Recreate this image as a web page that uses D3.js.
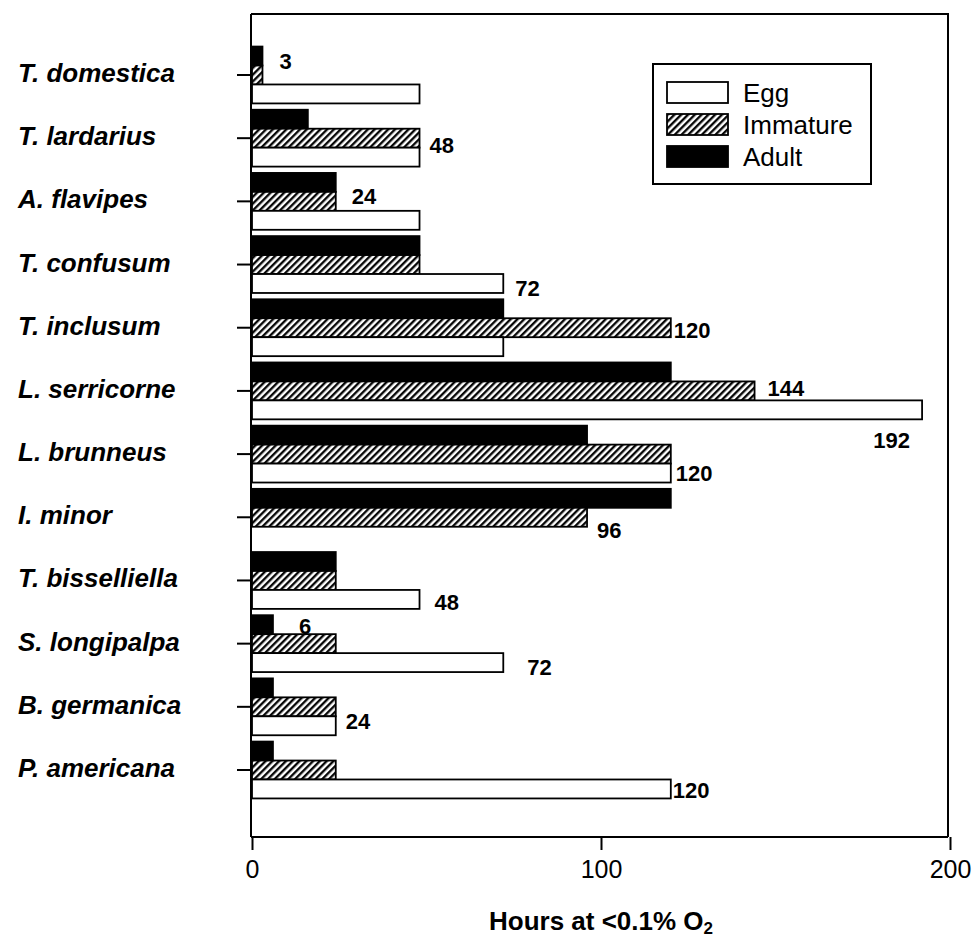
<!DOCTYPE html>
<html>
<head>
<meta charset="utf-8">
<script src="https://cdn.jsdelivr.net/npm/d3@7"></script>
<style>
  html, body { margin: 0; padding: 0; background: #fff; }
  svg { display: block; }
</style>
</head>
<body>
<svg id="chart" width="976" height="940"></svg>
<script>
// ---------------- DATA ----------------
const categories = [
  "T. domestica", "T. lardarius", "A. flavipes", "T. confusum", "T. inclusum",
  "L. serricorne", "L. brunneus", "I. minor", "T. bisselliella", "S. longipalpa",
  "B. germanica", "P. americana"
];
const seriesNames = ["Egg", "Immature", "Adult"];
const eggHours      = [48, 48, 48, 72, 72, 192, 120, 0, 48, 72, 24, 120];
const immatureHours = [3, 48, 24, 48, 120, 144, 120, 96, 24, 24, 24, 24];
const adultHours    = [3, 16, 24, 48, 72, 120, 96, 120, 24, 6, 6, 6];
const xTickValues = [0, 100, 200];
const xAxisTitle = "Hours at <0.1% O";
const xAxisTitleSub = "2";

// value annotations: category, series, text
const valueLabels = [
  { category: "T. domestica",    series: "Adult",    text: "3" },
  { category: "T. lardarius",    series: "Immature", text: "48" },
  { category: "A. flavipes",     series: "Immature", text: "24" },
  { category: "T. confusum",     series: "Egg",      text: "72" },
  { category: "T. inclusum",     series: "Immature", text: "120" },
  { category: "L. serricorne",   series: "Immature", text: "144" },
  { category: "L. serricorne",   series: "Egg",      text: "192" },
  { category: "L. brunneus",     series: "Egg",      text: "120" },
  { category: "I. minor",        series: "Immature", text: "96" },
  { category: "T. bisselliella", series: "Egg",      text: "48" },
  { category: "S. longipalpa",   series: "Adult",    text: "6" },
  { category: "S. longipalpa",   series: "Egg",      text: "72" },
  { category: "B. germanica",    series: "Egg",      text: "24" },
  { category: "P. americana",    series: "Egg",      text: "120" }
];

// ---------------- LAYOUT ----------------
const seriesValues = { "Egg": eggHours, "Immature": immatureHours, "Adult": adultHours };
const barOrder = ["Adult", "Immature", "Egg"]; // top to bottom inside a group
// nudges for annotation placement relative to bar end / bar centre (same order as valueLabels)
const labelNudges = [
  { dx: 17, dy: 5,  anchor: "start" },
  { dx: 10, dy: 7,  anchor: "start" },
  { dx: 16, dy: -5, anchor: "start" },
  { dx: 12, dy: 5,  anchor: "start" },
  { dx: 3,  dy: 3,  anchor: "start" },
  { dx: 13, dy: -2, anchor: "start" },
  { dx: -12, dy: 31, anchor: "end" },
  { dx: 5,  dy: 0,  anchor: "start" },
  { dx: 10, dy: 13, anchor: "start" },
  { dx: 15, dy: 3,  anchor: "start" },
  { dx: 26, dy: 2,  anchor: "start" },
  { dx: 24, dy: 5,  anchor: "start" },
  { dx: 10, dy: -4, anchor: "start" },
  { dx: 2,  dy: 2,  anchor: "start" }
];

const frame = { left: 251, right: 948, top: 14, bottom: 837 };
const svg = d3.select("#chart");
const FONT = "'Liberation Sans', Arial, Helvetica, sans-serif";

const x = d3.scaleLinear().domain([0, 200]).range([252, 950]);
const y = d3.scaleBand().domain(categories).range([43.4, 801.6])
  .paddingInner(0.1).paddingOuter(0.05);
const ySub = d3.scaleBand().domain(barOrder).range([0, y.bandwidth()]);

// hatch pattern
const defs = svg.append("defs");
const pat = defs.append("pattern")
  .attr("id", "hatch")
  .attr("patternUnits", "userSpaceOnUse")
  .attr("width", 4.8).attr("height", 4.8)
  .attr("patternTransform", "rotate(45)");
pat.append("rect").attr("width", 4.8).attr("height", 4.8).attr("fill", "#fff");
pat.append("line").attr("x1", 1.2).attr("y1", 0).attr("x2", 1.2).attr("y2", 4.8)
  .attr("stroke", "#000").attr("stroke-width", 2.3);

const fills = { "Egg": "#fff", "Immature": "url(#hatch)", "Adult": "#000" };

// bars
const barData = [];
categories.forEach((c, i) => {
  barOrder.forEach(s => {
    const v = seriesValues[s][i];
    if (v > 0) barData.push({ category: c, series: s, value: v });
  });
});

svg.append("g").selectAll("rect")
  .data(barData)
  .join("rect")
  .attr("x", x(0))
  .attr("y", d => y(d.category) + ySub(d.series))
  .attr("width", d => x(d.value) - x(0))
  .attr("height", ySub.bandwidth())
  .attr("fill", d => fills[d.series])
  .attr("stroke", "#000")
  .attr("stroke-width", 1.8);

// frame (top + right)
svg.append("path")
  .attr("d", `M${frame.left},${frame.top}H${frame.right}V${frame.bottom}`)
  .attr("fill", "none").attr("stroke", "#000").attr("stroke-width", 2);

// x axis
const xAxis = d3.axisBottom(x).tickValues(xTickValues).tickSize(13).tickSizeOuter(0).tickPadding(10);
const gx = svg.append("g").attr("transform", `translate(0,${frame.bottom})`).call(xAxis);
gx.select(".domain").attr("d", `M${frame.left},0H${frame.right}`).attr("stroke-width", 2);
gx.selectAll(".tick line").attr("stroke-width", 2);
gx.selectAll(".tick text")
  .attr("font-family", FONT).attr("font-size", 25).attr("fill", "#000");

// y axis
const yAxis = d3.axisLeft(y).tickSize(14).tickSizeOuter(0).tickFormat("");
const gy = svg.append("g").attr("transform", `translate(${frame.left},0)`).call(yAxis);
gy.select(".domain").attr("d", `M0,${frame.top}V${frame.bottom}`).attr("stroke-width", 2);
gy.selectAll(".tick line").attr("stroke-width", 2);

// category labels
svg.append("g").selectAll("text")
  .data(categories)
  .join("text")
  .attr("x", 18)
  .attr("y", d => y(d) + y.bandwidth() / 2 - 2)
  .attr("dominant-baseline", "central")
  .attr("font-family", FONT)
  .attr("font-size", 26)
  .attr("font-weight", "bold")
  .attr("font-style", "italic")
  .attr("fill", "#000")
  .text(d => d);

// value annotations
svg.append("g").selectAll("text")
  .data(valueLabels)
  .join("text")
  .attr("x", (d, i) => {
    const idx = categories.indexOf(d.category);
    return x(seriesValues[d.series][idx]) + labelNudges[i].dx;
  })
  .attr("y", (d, i) => y(d.category) + ySub(d.series) + ySub.bandwidth() / 2 + labelNudges[i].dy)
  .attr("text-anchor", (d, i) => labelNudges[i].anchor)
  .attr("dominant-baseline", "central")
  .attr("font-family", FONT)
  .attr("font-size", 22)
  .attr("font-weight", "bold")
  .attr("fill", "#000")
  .text(d => d.text);

// x title
const title = svg.append("text")
  .attr("x", 601).attr("y", 921)
  .attr("text-anchor", "middle")
  .attr("dominant-baseline", "central")
  .attr("font-family", FONT)
  .attr("font-size", 26)
  .attr("font-weight", "bold")
  .attr("fill", "#000");
title.append("tspan").text(xAxisTitle);
title.append("tspan").attr("font-size", 17).attr("dy", 7).text(xAxisTitleSub);

// legend
const legend = svg.append("g");
legend.append("rect")
  .attr("x", 653).attr("y", 64).attr("width", 218).attr("height", 120)
  .attr("fill", "#fff").attr("stroke", "#000").attr("stroke-width", 2);
const legendRows = [82, 114, 146];
seriesNames.forEach((s, i) => {
  legend.append("rect")
    .attr("x", 667).attr("y", legendRows[i]).attr("width", 61).attr("height", 21)
    .attr("fill", fills[s]).attr("stroke", "#000").attr("stroke-width", 1.8);
  legend.append("text")
    .attr("x", 743).attr("y", legendRows[i] + 11)
    .attr("dominant-baseline", "central")
    .attr("font-family", FONT).attr("font-size", 26).attr("fill", "#000")
    .text(s);
});
</script>
</body>
</html>
